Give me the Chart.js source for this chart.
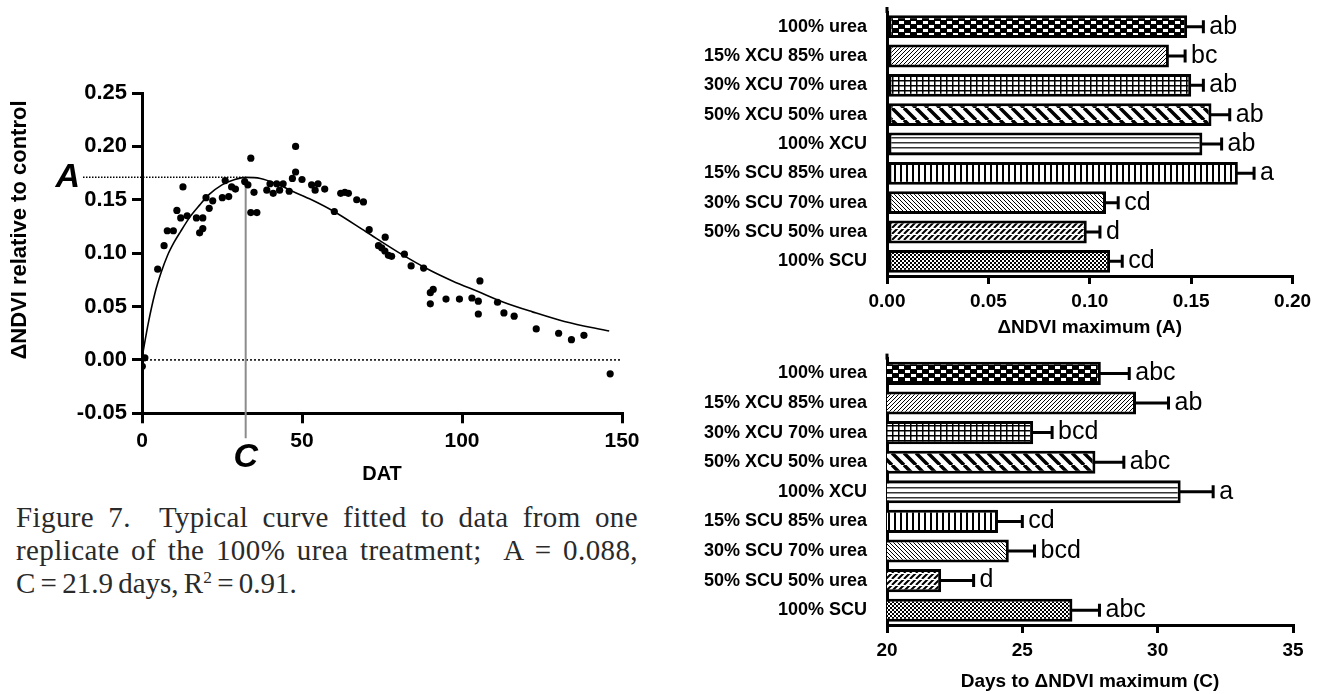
<!DOCTYPE html>
<html>
<head>
<meta charset="utf-8">
<script src="https://cdn.jsdelivr.net/npm/chart.js@4.4.0/dist/chart.umd.min.js"></script>
<style>
  html, body { margin: 0; padding: 0; background: #fff; }
  body { width: 1319px; height: 694px; position: relative; overflow: hidden; }
  canvas { position: absolute; }
  #scatter { left: 0; top: 0; }
  #barA { left: 640px; top: 0; }
  #barC { left: 640px; top: 345px; }
  #caption {
    position: absolute; left: 16px; top: 501px; width: 622px;
    font-family: 'Liberation Serif', 'DejaVu Serif', serif;
    font-size: 29px; line-height: 33px; color: #2a2a2a;
  }
  #caption .j { text-align: justify; text-align-last: justify; letter-spacing: 0.4px; }
  #caption .last { word-spacing: -2px; }
  #caption .sup { font-size: 60%; vertical-align: 0.6em; line-height: 0; }
</style>
</head>
<body>
<canvas id="scatter" width="650" height="500"></canvas>
<canvas id="barA" width="679" height="345"></canvas>
<canvas id="barC" width="679" height="349"></canvas>
<div id="caption">
  <div class="j">Figure 7.&nbsp; Typical curve fitted to data from one</div>
  <div class="j">replicate of the 100% urea treatment;&nbsp; A = 0.088,</div>
  <div class="last">C = 21.9 days, R<span class="sup">2</span> = 0.91.</div>
</div>
<script>
// ---- data ----
// scatter: one replicate, 100% urea
const pointDat = [0.1, 0.9, 4.9, 6.9, 7.9, 9.8, 10.9, 12.1, 12.8, 14.1, 17.0, 19.0, 19.0, 18.0, 20.0, 21.0,
  22.1, 25.1, 27.1, 26.0, 28.0, 29.2, 32.1, 33.1, 34.0, 35.0, 34.0, 35.9, 39.0, 40.0, 41.0, 42.1, 43.0,
  44.1, 46.0, 47.0, 48.0, 48.0, 50.0, 53.0, 54.1, 55.0, 57.1, 60.1, 62.1, 63.4, 64.5, 67.1, 69.2, 71.0,
  73.9, 74.9, 75.9, 76.0, 77.0, 78.0, 82.0, 84.1, 88.0, 90.1, 91.0, 90.1, 95.0, 99.2, 103.1, 105.1,
  105.6, 105.1, 111.1, 113.1, 116.3, 123.2, 130.2, 134.2, 138.1, 146.3]
const pointDelta = [-0.006, 0.002, 0.085, 0.107, 0.121, 0.121, 0.140, 0.133, 0.162, 0.135, 0.133, 0.133,
  0.123, 0.119, 0.152, 0.142, 0.149, 0.152, 0.153, 0.168, 0.162, 0.160, 0.167, 0.164, 0.189, 0.157,
  0.138, 0.138, 0.159, 0.165, 0.156, 0.165, 0.159, 0.165, 0.158, 0.170, 0.176, 0.200, 0.169, 0.164,
  0.159, 0.165, 0.160, 0.139, 0.156, 0.157, 0.156, 0.150, 0.148, 0.122, 0.107, 0.105, 0.102, 0.115,
  0.098, 0.097, 0.099, 0.088, 0.086, 0.063, 0.066, 0.0525, 0.057, 0.057, 0.058, 0.055, 0.074, 0.043,
  0.054, 0.044, 0.041, 0.029, 0.025, 0.019, 0.023, -0.013]

// fitted curve
const curveDat = [0, 2, 4, 6, 8, 10, 12, 15, 18, 21, 25, 29, 32.4, 37, 42, 47, 53, 60, 70, 80, 90, 97,
  105, 113, 122, 132, 146]
const curveDelta = [0.002, 0.035, 0.062, 0.082, 0.098, 0.110, 0.120, 0.134, 0.145, 0.155, 0.164, 0.169,
  0.171, 0.170, 0.165, 0.158, 0.150, 0.139, 0.120, 0.101, 0.084, 0.074, 0.064, 0.054, 0.045, 0.036, 0.027]

const peakA = 0.171
const peakC = 32.4

// bar charts
const treatments = ['100% urea', '15% XCU 85% urea', '30% XCU 70% urea', '50% XCU 50% urea', '100% XCU',
  '15% SCU 85% urea', '30% SCU 70% urea', '50% SCU 50% urea', '100% SCU']
const maxA = [0.148, 0.139, 0.150, 0.160, 0.1555, 0.173, 0.108, 0.0985, 0.110]
const maxAErr = [0.008, 0.008, 0.006, 0.009, 0.0095, 0.008, 0.006, 0.0065, 0.006]
const maxALetters = ['ab', 'bc', 'ab', 'ab', 'ab', 'a', 'cd', 'd', 'cd']
const daysC = [27.9, 29.2, 25.4, 27.7, 30.85, 24.1, 24.5, 22.0, 26.85]
const daysCErr = [1.05, 1.2, 0.7, 1.05, 1.2, 0.9, 0.95, 1.2, 1.0]
const daysCLetters = ['abc', 'ab', 'bcd', 'abc', 'a', 'cd', 'bcd', 'd', 'abc']

Chart.defaults.font.family = "'Liberation Sans', Arial, sans-serif"
Chart.defaults.color = '#000'

function fixed(v, n) {
    const num = Number(v)
    return (Math.abs(num) < 1e-9 ? 0 : num).toFixed(n)
}

// ---- hatch fills ----
function makePattern(w, h, draw) {
    const c = document.createElement('canvas')
    c.width = w
    c.height = h
    const g = c.getContext('2d')
    g.fillStyle = '#fff'
    g.fillRect(0, 0, w, h)
    g.fillStyle = '#000'
    g.strokeStyle = '#000'
    draw(g, w, h)
    return document.createElement('canvas').getContext('2d').createPattern(c, 'repeat')
}

function diag(g, w, h, lw, up) {
    g.lineWidth = lw
    g.beginPath()
    for (let k = -1; k <= 1; k++) {
        if (up) {
            g.moveTo(k * w, h); g.lineTo(k * w + w, 0)
        } else {
            g.moveTo(k * w, 0); g.lineTo(k * w + w, h)
        }
    }
    g.stroke()
}

const patterns = [
    // 100% urea: coarse checker on black
    makePattern(12, 8, g => {
        g.fillRect(0, 0, 12, 8)
        g.fillStyle = '#fff'
        g.fillRect(1, 1, 5, 3)
        g.fillRect(7, 5, 5, 3)
    }),
    // 15% XCU: fine forward hatch
    makePattern(4, 4, (g, w, h) => diag(g, w, h, 1, true)),
    // 30% XCU: grid
    makePattern(6, 5, g => {
        g.fillRect(0, 0, 6, 1.5)
        g.fillRect(0, 0, 1.5, 5)
    }),
    // 50% XCU: coarse back hatch
    makePattern(12, 12, (g, w, h) => diag(g, w, h, 3.5, false)),
    // 100% XCU: horizontal lines
    makePattern(4, 5, g => {
        g.fillStyle = '#333'
        g.fillRect(0, 2, 4, 1.5)
    }),
    // 15% SCU: vertical lines
    makePattern(6, 4, g => g.fillRect(2, 0, 2, 4)),
    // 30% SCU: fine back hatch
    makePattern(4, 4, (g, w, h) => diag(g, w, h, 1, false)),
    // 50% SCU: broken forward hatch
    makePattern(6, 6, (g, w, h) => {
        diag(g, w, h, 2, true)
        g.fillStyle = '#fff'
        g.fillRect(0, 0, 6, 1)
    }),
    // 100% SCU: fine checker
    makePattern(4, 4, g => {
        g.fillRect(0, 0, 2, 2)
        g.fillRect(2, 2, 2, 2)
    })
]

// ---- scatter with fitted curve ----
const scatterMarks = {
    id: 'scatterMarks',
    beforeDatasetsDraw(chart) {
        const { ctx, scales: { x, y } } = chart
        const y0 = y.getPixelForValue(0)
        const ya = y.getPixelForValue(peakA)
        const xc = x.getPixelForValue(peakC)
        ctx.save()
        ctx.strokeStyle = '#000'
        ctx.lineWidth = 1.5
        ctx.setLineDash([2, 2])
        ctx.beginPath()
        ctx.moveTo(x.getPixelForValue(0), y0)
        ctx.lineTo(x.getPixelForValue(150), y0)
        ctx.stroke()

        ctx.setLineDash([1.5, 1.5])
        ctx.beginPath()
        ctx.moveTo(83, ya)
        ctx.lineTo(xc, ya)
        ctx.stroke()

        ctx.setLineDash([])
        ctx.strokeStyle = '#8c8c8c'
        ctx.lineWidth = 2
        ctx.beginPath()
        ctx.moveTo(xc, ya)
        ctx.lineTo(xc, y.bottom + 25)
        ctx.stroke()
        ctx.restore()
    },
    afterDraw(chart) {
        const { ctx, scales: { x, y } } = chart
        ctx.save()
        ctx.fillStyle = '#000'
        ctx.font = "italic bold 34px 'Liberation Sans', Arial, sans-serif"
        ctx.textBaseline = 'middle'
        ctx.textAlign = 'right'
        ctx.fillText('A', 80, y.getPixelForValue(peakA))
        ctx.textAlign = 'center'
        ctx.fillText('C', x.getPixelForValue(peakC), 458)

        ctx.font = "bold 22px 'Liberation Sans', Arial, sans-serif"
        ctx.translate(20, 230)
        ctx.rotate(-Math.PI / 2)
        ctx.fillText('ΔNDVI relative to control', 0, 0)
        ctx.restore()
    }
}

new Chart(document.getElementById('scatter'), {
    type: 'scatter',
    data: {
        datasets: [
            {
                data: pointDat.map((d, i) => ({ x: d, y: pointDelta[i] })),
                backgroundColor: '#000',
                borderColor: '#000',
                pointRadius: 3.6,
                borderWidth: 0
            },
            {
                data: curveDat.map((d, i) => ({ x: d, y: curveDelta[i] })),
                showLine: true,
                borderColor: '#000',
                borderWidth: 1.6,
                pointRadius: 0,
                cubicInterpolationMode: 'monotone'
            }
        ]
    },
    options: {
        responsive: false,
        animation: false,
        layout: { padding: { left: 0, top: 93, right: 28, bottom: 14 } },
        plugins: { legend: { display: false }, tooltip: { enabled: false } },
        scales: {
            x: {
                type: 'linear', min: 0, max: 150,
                ticks: { stepSize: 50, font: { size: 21, weight: 'bold' }, color: '#000', padding: 5 },
                grid: { drawOnChartArea: false, color: '#000', lineWidth: 3, tickLength: 10 },
                border: { color: '#000', width: 3 },
                title: { display: true, text: 'DAT', font: { size: 20, weight: 'bold' }, color: '#000', padding: 0 },
                afterFit: s => { s.height = 72.7 }
            },
            y: {
                min: -0.05, max: 0.25,
                ticks: { stepSize: 0.05, callback: v => fixed(v, 2), font: { size: 22, weight: 'bold' }, color: '#000', padding: 5 },
                grid: { drawOnChartArea: false, color: '#000', lineWidth: 3, tickLength: 10 },
                border: { color: '#000', width: 3 },
                afterFit: s => { s.width = 142 }
            }
        }
    },
    plugins: [scatterMarks]
})

// ---- bar charts with one-sided error bars and letters ----
const errorBars = {
    id: 'errorBars',
    afterDatasetsDraw(chart, args, opts) {
        const { ctx, chartArea } = chart
        const xs = chart.scales.x
        const values = chart.data.datasets[0].data
        ctx.save()
        ctx.strokeStyle = '#000'
        ctx.lineWidth = 3
        // axis line runs a little past the top
        ctx.beginPath()
        ctx.moveTo(chartArea.left, chartArea.top - 5)
        ctx.lineTo(chartArea.left, chartArea.top + 1)
        ctx.stroke()

        ctx.fillStyle = '#000'
        ctx.font = "25px 'Liberation Sans', Arial, sans-serif"
        ctx.textBaseline = 'middle'
        ctx.textAlign = 'left'
        chart.getDatasetMeta(0).data.forEach((bar, i) => {
            const x0 = xs.getPixelForValue(values[i])
            const x1 = xs.getPixelForValue(values[i] + opts.errors[i])
            const y = bar.y
            ctx.beginPath()
            ctx.moveTo(x0 - 1, y)
            ctx.lineTo(x1, y)
            ctx.moveTo(x1, y - 6.5)
            ctx.lineTo(x1, y + 6.5)
            ctx.stroke()
            ctx.fillText(opts.letters[i], x1 + 6, y)
        })
        ctx.restore()
    }
}

function barChart(id, values, errors, letters, xMin, xMax, step, decimals, title, pad, axisH) {
    return new Chart(document.getElementById(id), {
        type: 'bar',
        data: {
            labels: treatments,
            datasets: [{
                data: values,
                backgroundColor: patterns,
                borderColor: '#000',
                borderWidth: 3,
                borderSkipped: false,
                barPercentage: 0.78,
                categoryPercentage: 1
            }]
        },
        options: {
            indexAxis: 'y',
            responsive: false,
            animation: false,
            layout: { padding: pad },
            plugins: {
                legend: { display: false },
                tooltip: { enabled: false },
                errorBars: { errors, letters }
            },
            scales: {
                x: {
                    min: xMin, max: xMax,
                    ticks: { stepSize: step, callback: v => fixed(v, decimals), font: { size: 19, weight: 'bold' }, color: '#000', padding: 6 },
                    grid: { drawOnChartArea: false, color: '#000', lineWidth: 3, tickLength: 8 },
                    border: { color: '#000', width: 3 },
                    title: { display: true, text: title, font: { size: 19, weight: 'bold' }, color: '#000', padding: 0 },
                    afterFit: s => { s.height = axisH }
                },
                y: {
                    ticks: { font: { size: 18, weight: 'bold' }, color: '#000', padding: 12 },
                    grid: { display: false },
                    border: { color: '#000', width: 3 },
                    afterFit: s => {
                        s.width = 247
                        s.paddingTop = 0
                        s.paddingBottom = 0
                    }
                }
            }
        },
        plugins: [errorBars]
    })
}

barChart('barA', maxA, maxAErr, maxALetters, 0, 0.2, 0.05, 2, 'ΔNDVI maximum (A)',
    { left: 0, top: 12, right: 26.4, bottom: 6 }, 63)
barChart('barC', daysC, daysCErr, daysCLetters, 20, 35, 5, 0, 'Days to ΔNDVI maximum (C)',
    { left: 0, top: 13.6, right: 26, bottom: 1 }, 68)
</script>
</body>
</html>
